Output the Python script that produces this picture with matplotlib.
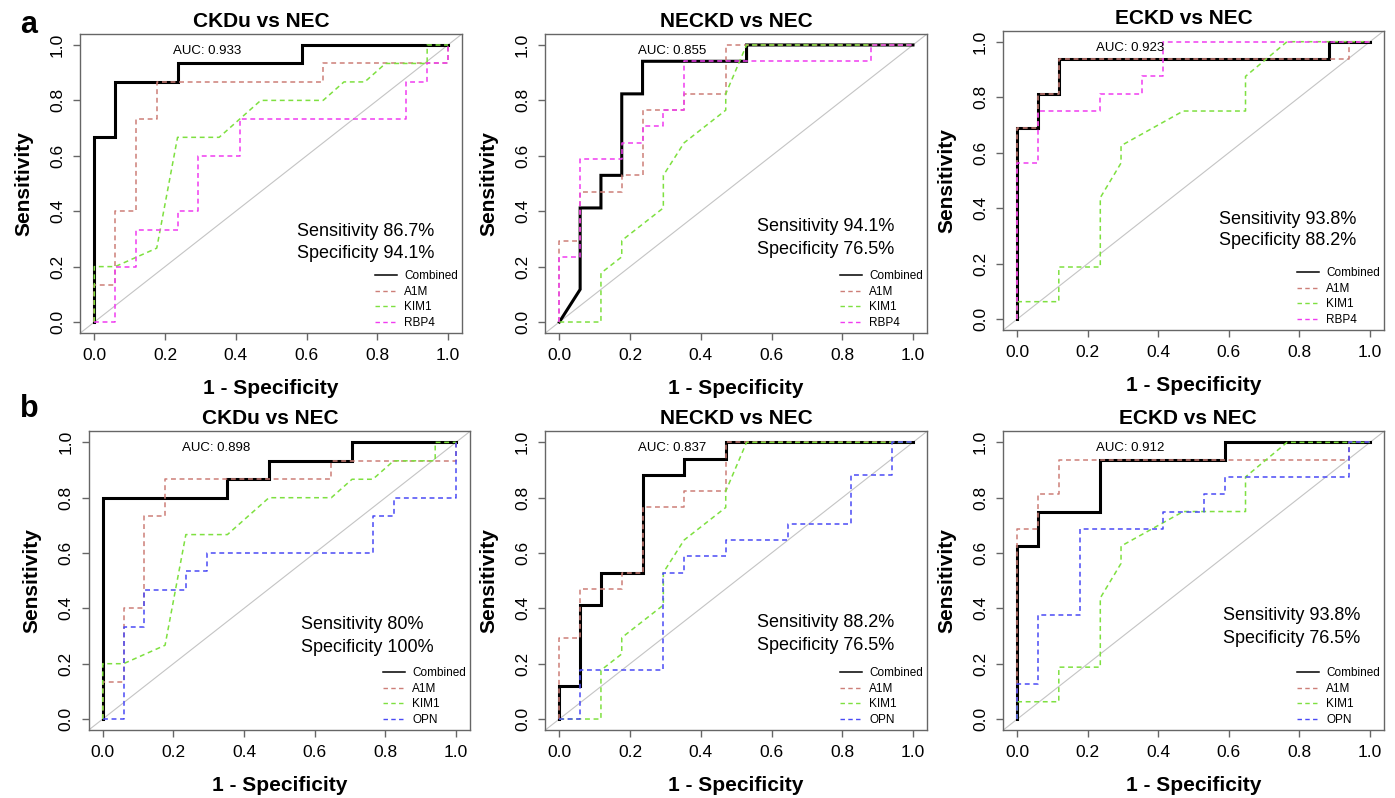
import matplotlib
matplotlib.use("Agg")
import matplotlib.pyplot as plt
from matplotlib.lines import Line2D

plt.rcParams['font.family'] = ['Liberation Sans', 'DejaVu Sans']

# group sizes (controls = NEC)
n_nec = 17
n_ckdu = 15
n_neckd = 17
n_eckd = 16

titles = ['CKDu vs NEC', 'NECKD vs NEC', 'ECKD vs NEC']
auc_a = ['0.933', '0.855', '0.923']
auc_b = ['0.898', '0.837', '0.912']
sens_a = ['86.7%', '94.1%', '93.8%']
spec_a = ['94.1%', '76.5%', '88.2%']
sens_b = ['80%', '88.2%', '93.8%']
spec_b = ['100%', '76.5%', '76.5%']

# ROC curves as (false positive count, true positive count)
ckdu_combined_a = [(0, 0), (0, 10), (1, 10), (1, 13), (4, 13), (4, 14), (10, 14), (10, 15), (17, 15)]
ckdu_combined_b = [(0, 0), (0, 12), (6, 12), (6, 13), (8, 13), (8, 14), (12, 14), (12, 15), (17, 15)]
ckdu_a1m = [(0, 0), (0, 2), (1, 2), (1, 6), (2, 6), (2, 11), (3, 11), (3, 13), (11, 13), (11, 14),
            (17, 14), (17, 15)]
ckdu_kim1 = [(0, 0), (0, 3), (1, 3), (3, 4), (4, 10), (6, 10), (8, 12), (11, 12), (12, 13), (13, 13),
             (14, 14), (16, 14), (16, 15), (17, 15)]
ckdu_rbp4 = [(0, 0), (1, 0), (1, 3), (2, 3), (2, 5), (4, 5), (4, 6), (5, 6), (5, 9), (7, 9), (7, 11),
             (15, 11), (15, 13), (16, 13), (16, 14), (17, 14), (17, 15)]
ckdu_opn = [(0, 0), (1, 0), (1, 5), (2, 5), (2, 7), (4, 7), (4, 8), (5, 8), (5, 9), (13, 9), (13, 11),
            (14, 11), (14, 12), (17, 12), (17, 15)]

neckd_combined_a = [(0, 0), (1, 2), (1, 7), (2, 7), (2, 9), (3, 9), (3, 14), (4, 14), (4, 16), (9, 16),
                    (9, 17), (17, 17)]
neckd_combined_b = [(0, 0), (0, 2), (1, 2), (1, 7), (2, 7), (2, 9), (4, 9), (4, 15), (6, 15), (6, 16),
                    (8, 16), (8, 17), (17, 17)]
neckd_a1m = [(0, 0), (0, 5), (1, 5), (1, 8), (3, 8), (3, 9), (4, 9), (4, 13), (6, 13), (6, 14), (8, 14),
             (8, 17), (17, 17)]
neckd_kim1 = [(0, 0), (2, 0), (2, 3), (3, 4), (3, 5), (5, 7), (5, 9), (6, 11), (8, 13), (8, 14), (9, 17),
              (17, 17)]
neckd_rbp4 = [(0, 0), (0, 4), (1, 4), (1, 10), (3, 10), (3, 11), (4, 11), (4, 12), (5, 12), (5, 13),
              (6, 13), (6, 16), (15, 16), (15, 17), (17, 17)]
neckd_opn = [(0, 0), (1, 0), (1, 3), (5, 3), (5, 9), (6, 9), (6, 10), (8, 10), (8, 11), (11, 11),
             (11, 12), (14, 12), (14, 15), (16, 15), (16, 17), (17, 17)]

eckd_combined_a = [(0, 0), (0, 11), (1, 11), (1, 13), (2, 13), (2, 15), (15, 15), (15, 16), (17, 16)]
eckd_combined_b = [(0, 0), (0, 10), (1, 10), (1, 12), (4, 12), (4, 15), (10, 15), (10, 16), (17, 16)]
eckd_a1m = [(0, 0), (0, 11), (1, 11), (1, 13), (2, 13), (2, 15), (16, 15), (16, 16), (17, 16)]
eckd_kim1 = [(0, 0), (0, 1), (2, 1), (2, 3), (4, 3), (4, 7), (5, 9), (5, 10), (8, 12), (11, 12),
             (11, 14), (13, 16), (17, 16)]
eckd_rbp4 = [(0, 0), (0, 9), (1, 9), (1, 12), (4, 12), (4, 13), (6, 13), (6, 14), (7, 14), (7, 16),
             (17, 16)]
eckd_opn = [(0, 0), (0, 2), (1, 2), (1, 6), (3, 6), (3, 11), (7, 11), (7, 12), (9, 12), (9, 13),
            (10, 13), (10, 14), (16, 14), (16, 16), (17, 16)]

colors = {'Combined': 'black', 'A1M': '#CD7F78', 'KIM1': '#7EE040', 'RBP4': '#F03CF0', 'OPN': '#4A4AF5'}

panels = [
    (titles[0], n_ckdu, auc_a[0], sens_a[0], spec_a[0],
     [('Combined', ckdu_combined_a), ('A1M', ckdu_a1m), ('KIM1', ckdu_kim1), ('RBP4', ckdu_rbp4)]),
    (titles[1], n_neckd, auc_a[1], sens_a[1], spec_a[1],
     [('Combined', neckd_combined_a), ('A1M', neckd_a1m), ('KIM1', neckd_kim1), ('RBP4', neckd_rbp4)]),
    (titles[2], n_eckd, auc_a[2], sens_a[2], spec_a[2],
     [('Combined', eckd_combined_a), ('A1M', eckd_a1m), ('KIM1', eckd_kim1), ('RBP4', eckd_rbp4)]),
    (titles[0], n_ckdu, auc_b[0], sens_b[0], spec_b[0],
     [('Combined', ckdu_combined_b), ('A1M', ckdu_a1m), ('KIM1', ckdu_kim1), ('OPN', ckdu_opn)]),
    (titles[1], n_neckd, auc_b[1], sens_b[1], spec_b[1],
     [('Combined', neckd_combined_b), ('A1M', neckd_a1m), ('KIM1', neckd_kim1), ('OPN', neckd_opn)]),
    (titles[2], n_eckd, auc_b[2], sens_b[2], spec_b[2],
     [('Combined', eckd_combined_b), ('A1M', eckd_a1m), ('KIM1', eckd_kim1), ('OPN', eckd_opn)]),
]

# layout in pixels: box (left, top, right, bottom), title shift, stats text x / y1 / y2
W, H = 1395, 798
boxes = [(80.2, 33.9, 462.1, 333.1), (545.2, 33.9, 927.1, 333.1), (1003.2, 30.6, 1384.1, 330.1),
         (88.6, 431.3, 470.1, 730.1), (545.2, 431.3, 927.1, 730.1), (1003.2, 431.3, 1384.1, 730.1)]
title_dx = [-0.027, 0.0, -0.025, -0.023, 0.0, -0.016]
stat_pos = [(0.574, 0.327, 0.249), (0.558, 0.343, 0.263), (0.572, 0.36, 0.282),
            (0.56, 0.343, 0.259), (0.56, 0.349, 0.267), (0.584, 0.376, 0.29)]

fig = plt.figure(figsize=(W / 100, H / 100), dpi=100)
edge = '#666666'

for i, (title, n_case, auc, sens, spec, curves) in enumerate(panels):
    l, t, r, b = boxes[i]
    ax = fig.add_axes([l / W, 1 - b / H, (r - l) / W, (b - t) / H])
    ax.set_xlim(-0.04, 1.04)
    ax.set_ylim(-0.04, 1.04)
    ax.plot([-0.04, 1.04], [-0.04, 1.04], color='#C4C4C4', lw=0.8, zorder=1)

    handles = []
    for name, pts in curves:
        xs = [p[0] / n_nec for p in pts]
        ys = [p[1] / n_case for p in pts]
        if name == 'Combined':
            ax.plot(xs, ys, color='black', lw=2.2, zorder=2, solid_joinstyle='miter')
            handles.append(Line2D([], [], color='black', lw=1.1))
        else:
            ax.plot(xs, ys, color=colors[name], lw=1.1, dashes=(3.2, 2.4), zorder=3)
            handles.append(Line2D([], [], color=colors[name], lw=1.0, dashes=(3.2, 2.4)))

    ax.legend(handles, [c[0] for c in curves], loc='lower right', frameon=False, fontsize=8.5,
              handlelength=1.9, handletextpad=0.6, labelspacing=0.3, borderpad=0.2,
              borderaxespad=0.15)

    ax.text(0.32, 0.978, 'AUC: ' + auc, ha='center', va='center', fontsize=9.5)
    sx, sy1, sy2 = stat_pos[i]
    ax.text(sx, sy1, 'Sensitivity ' + sens, ha='left', va='center', fontsize=13)
    ax.text(sx, sy2, 'Specificity ' + spec, ha='left', va='center', fontsize=13)

    ax.set_title(title, fontsize=15, fontweight='bold', x=0.5 + title_dx[i], pad=5)
    ax.set_xlabel('1 - Specificity', fontsize=15, fontweight='bold', labelpad=11)
    ax.set_ylabel('Sensitivity', fontsize=15, fontweight='bold', labelpad=12)

    ticks = [0.0, 0.2, 0.4, 0.6, 0.8, 1.0]
    ax.set_xticks(ticks)
    ax.set_yticks(ticks)
    ax.set_xticklabels(['%.1f' % v for v in ticks])
    ax.set_yticklabels(['%.1f' % v for v in ticks], rotation=90, va='center')
    ax.tick_params(direction='out', length=5, width=1, color=edge, labelsize=12.5)
    ax.tick_params(axis='x', pad=6)
    ax.tick_params(axis='y', pad=6)
    for s in ax.spines.values():
        s.set_color(edge)
        s.set_linewidth(1.0)

fig.text(20 / W, 1 - 33 / H, 'a', fontsize=22, fontweight='bold', va='baseline')
fig.text(20 / W, 1 - 417 / H, 'b', fontsize=22, fontweight='bold', va='baseline')

fig.savefig('out.png', dpi=100)
